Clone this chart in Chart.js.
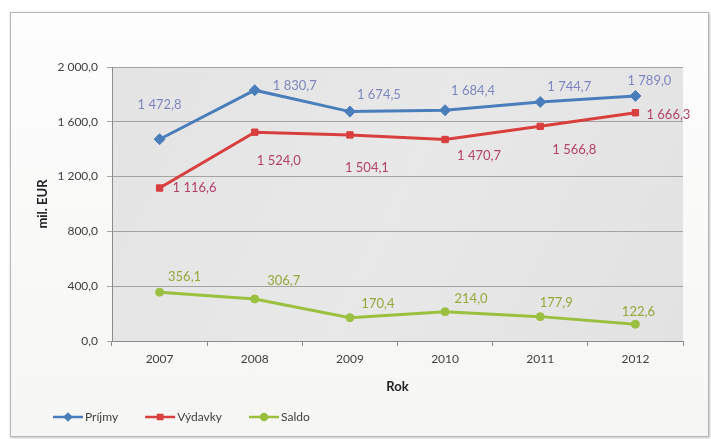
<!DOCTYPE html>
<html lang="sk">
<head>
  <meta charset="UTF-8" />
  <title>Príjmy, výdavky a saldo</title>
  <script src="https://cdn.jsdelivr.net/npm/chart.js"></script>
  <style>
    html, body { margin: 0; padding: 0; background: #ffffff; }
    #wrap { position: relative; width: 711px; height: 439px; overflow: hidden; }
    #frame {
      position: absolute; left: 10px; top: 12px; width: 697px; height: 423px;
      border: 1px solid #b5b5b5; box-shadow: 1px 1px 3px rgba(0,0,0,0.25);
      background: linear-gradient(#fdfdfd, #f6f6f4);
    }
    canvas { position: absolute; left: 0; top: 0; }
  </style>
</head>
<body>
  <div id="wrap">
    <div id="frame"></div>
    <canvas id="chart" width="711" height="439"></canvas>
  </div>

  <script>
    // data
    const years = ['2007', '2008', '2009', '2010', '2011', '2012'];
    const prijmy = [1472.8, 1830.7, 1674.5, 1684.4, 1744.7, 1789.0];
    const vydavky = [1116.6, 1524.0, 1504.1, 1470.7, 1566.8, 1666.3];
    const saldo = [356.1, 306.7, 170.4, 214.0, 177.9, 122.6];
    const seriesNames = ['Príjmy', 'Výdavky', 'Saldo'];
    const yTicks = [0, 400, 800, 1200, 1600, 2000];

    // label placement (offset from point, px) and colours
    const labelStyle = [
      { color: '#7e86c2', off: [[0, -34], [40, -4], [29, -17], [28, -19], [29, -15], [14, -15]] },
      { color: '#b3416c', off: [[35, 0], [24, 29], [17, 33], [34, 16], [34, 23], [33, 2]] },
      { color: '#93a93a', off: [[25, -15], [29, -18], [28, -14], [26, -13], [16, -14], [3, -12]] }
    ];

    const FONT = "Lato, 'Liberation Sans', sans-serif";

    function fmt(v) {
      const s = v.toFixed(1).split('.');
      return s[0].replace(/\B(?=(\d{3})+(?!\d))/g, ' ') + ',' + s[1];
    }

    const plotBg = {
      id: 'plotBg',
      beforeDraw(chart) {
        const { ctx, chartArea: a } = chart;
        const g = ctx.createLinearGradient(a.left, a.top, a.right, a.bottom);
        g.addColorStop(0, '#e4e4e4');
        g.addColorStop(0.5, '#e8e8e8');
        g.addColorStop(1, '#e2e2e2');
        ctx.save();
        ctx.fillStyle = g;
        ctx.fillRect(a.left, a.top, a.right - a.left, a.bottom - a.top);
        ctx.restore();
      }
    };

    const pointLabels = {
      id: 'pointLabels',
      afterDatasetsDraw(chart) {
        const ctx = chart.ctx;
        ctx.save();
        ctx.font = '13px ' + FONT;
        ctx.textAlign = 'center';
        ctx.textBaseline = 'middle';
        chart.data.datasets.forEach((ds, i) => {
          const st = labelStyle[i];
          ctx.fillStyle = st.color;
          chart.getDatasetMeta(i).data.forEach((pt, j) => {
            ctx.fillText(fmt(ds.data[j]), pt.x + st.off[j][0], pt.y + st.off[j][1]);
          });
        });
        ctx.restore();
      }
    };

    const legendDraw = {
      id: 'legendDraw',
      afterDraw(chart) {
        const ctx = chart.ctx;
        let x = 53;
        const y = 417;
        ctx.save();
        ctx.font = '12px ' + FONT;
        ctx.textBaseline = 'middle';
        chart.data.datasets.forEach(ds => {
          ctx.strokeStyle = ds.borderColor;
          ctx.lineWidth = 2.5;
          ctx.beginPath();
          ctx.moveTo(x, y);
          ctx.lineTo(x + 30, y);
          ctx.stroke();
          Chart.helpers.drawPoint(ctx, {
            pointStyle: ds.pointStyle, radius: 3, borderWidth: 1
          }, x + 15, y);
          ctx.fillStyle = ds.borderColor;
          ctx.fill();
          ctx.fillStyle = '#404040';
          ctx.fillText(ds.label, x + 32, y);
          x += 32 + ctx.measureText(ds.label).width + 27;
        });
        ctx.restore();
      }
    };

    const colors = ['#4a7ebb', '#d93f3f', '#9bbf3f'];
    const styles = ['rectRot', 'rect', 'circle'];
    const radii = [5.5, 4.5, 4];

    new Chart(document.getElementById('chart'), {
      type: 'line',
      data: {
        labels: years,
        datasets: [prijmy, vydavky, saldo].map((d, i) => ({
          label: seriesNames[i],
          data: d,
          borderColor: colors[i],
          backgroundColor: colors[i],
          borderWidth: 3,
          tension: 0,
          pointStyle: styles[i],
          pointRadius: radii[i],
          pointBorderWidth: 1,
          pointBackgroundColor: colors[i],
          pointBorderColor: colors[i]
        }))
      },
      options: {
        responsive: false,
        animation: false,
        layout: { padding: { top: 67, right: 28, left: 0, bottom: 0 } },
        plugins: { legend: { display: false }, tooltip: { enabled: false } },
        scales: {
          x: {
            offset: true,
            afterFit: s => { s.height = 98; },
            grid: { drawOnChartArea: false, offset: true, tickLength: 5, color: '#8c8c8c' },
            border: { color: '#8c8c8c' },
            ticks: { color: '#404040', padding: 6, font: { family: FONT, size: 12 } },
            title: {
              display: true, text: 'Rok', color: '#222',
              font: { family: FONT, size: 13, weight: 'bold' },
              padding: { top: 0, bottom: 44 }
            }
          },
          y: {
            min: 0, max: 2000,
            afterFit: s => { s.width = 112; },
            afterBuildTicks: s => { s.ticks = yTicks.map(v => ({ value: v })); },
            grid: { color: '#a3a3a3', tickLength: 5 },
            border: { color: '#8c8c8c' },
            ticks: {
              color: '#404040', padding: 9, font: { family: FONT, size: 12 },
              callback: v => fmt(v)
            },
            title: {
              display: true, text: 'mil. EUR', color: '#222',
              font: { family: FONT, size: 13, weight: 'bold' },
              padding: { top: 35, bottom: 0 }
            }
          }
        }
      },
      plugins: [plotBg, pointLabels, legendDraw]
    });
  </script>
</body>
</html>
